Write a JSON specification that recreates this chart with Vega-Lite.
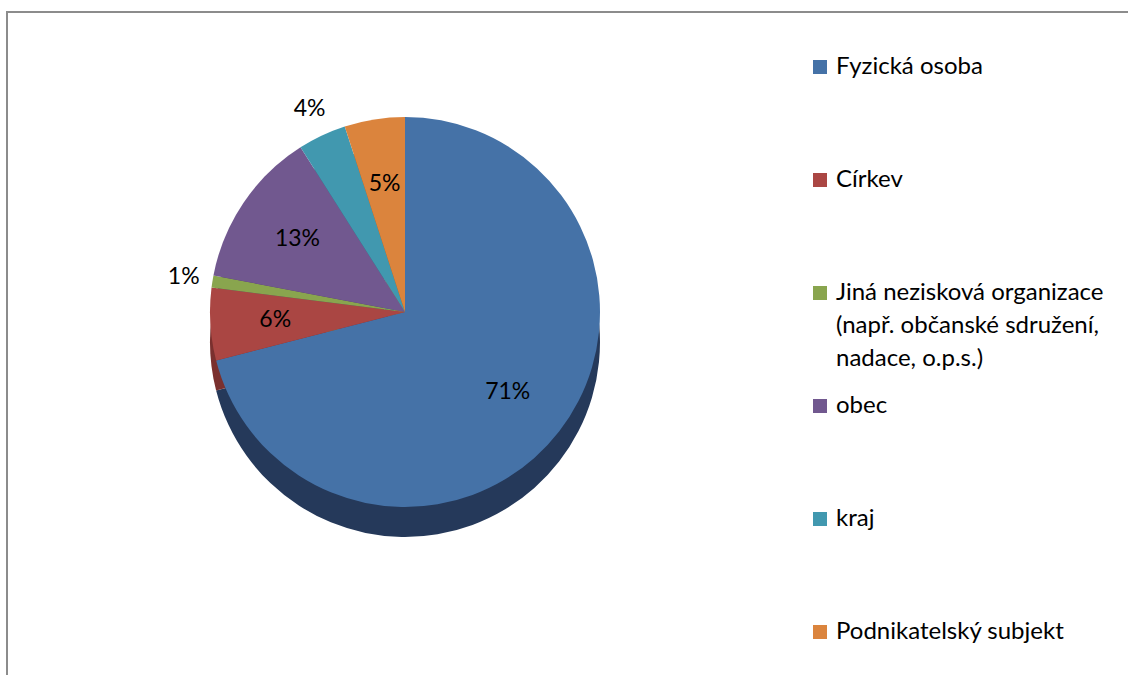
{
  "$schema": "https://vega.github.io/schema/vega-lite/v6.json",
  "autosize": "none",
  "width": 1125,
  "height": 670,
  "padding": {"left": 7, "top": 12, "right": 0, "bottom": 0},
  "background": "white",
  "config": {
    "view": {"stroke": "#8c8c8c", "strokeWidth": 2},
    "font": "Lato",
    "style": {"guide-label": {"lineHeight": 33}}
  },
  "data": {
    "values": [
      {"kategorie": "Fyzická osoba", "podil": 0.71, "poradi": 1},
      {"kategorie": "Církev", "podil": 0.06, "poradi": 2},
      {"kategorie": "Jiná nezisková organizace (např. občanské sdružení, nadace, o.p.s.)", "podil": 0.01, "poradi": 3},
      {"kategorie": "obec", "podil": 0.13, "poradi": 4},
      {"kategorie": "kraj", "podil": 0.04, "poradi": 5},
      {"kategorie": "Podnikatelský subjekt", "podil": 0.05, "poradi": 6}
    ]
  },
  "layer": [
    {
      "mark": {"type": "arc", "outerRadius": 195, "yOffset": 30},
      "encoding": {
        "x": {"value": 398},
        "y": {"value": 300},
        "theta": {"field": "podil", "type": "quantitative", "stack": true},
        "order": {"field": "poradi", "type": "quantitative"},
        "color": {
          "field": "kategorie",
          "type": "nominal",
          "legend": null,
          "scale": {
            "domain": ["Fyzická osoba", "Církev", "Jiná nezisková organizace (např. občanské sdružení, nadace, o.p.s.)", "obec", "kraj", "Podnikatelský subjekt"],
            "range": ["#25395a", "#7a302e", "#5f7535", "#4e3d63", "#2c6a7a", "#985b2a"]
          }
        }
      }
    },
    {
      "mark": {"type": "arc", "outerRadius": 195},
      "encoding": {
        "x": {"value": 398},
        "y": {"value": 300},
        "theta": {"field": "podil", "type": "quantitative", "stack": true},
        "order": {"field": "poradi", "type": "quantitative"},
        "color": {
          "field": "kategorie",
          "type": "nominal",
          "sort": null,
          "scale": {
            "domain": ["Fyzická osoba", "Církev", "Jiná nezisková organizace (např. občanské sdružení, nadace, o.p.s.)", "obec", "kraj", "Podnikatelský subjekt"],
            "range": ["#4572a7", "#aa4643", "#89a54e", "#71588f", "#4198af", "#db843d"]
          },
          "legend": {
            "title": null,
            "orient": "none",
            "legendX": 801,
            "legendY": 43,
            "symbolType": "square",
            "symbolSize": 196,
            "symbolStrokeWidth": 0,
            "labelFont": "Lato",
            "labelFontSize": 24,
            "labelColor": "#000000",
            "labelLimit": 400,
            "labelOffset": 4,
            "rowPadding": 23,
            "labelExpr": "datum.label == 'Jiná nezisková organizace (např. občanské sdružení, nadace, o.p.s.)' ? [' Jiná nezisková organizace', '(např. občanské sdružení,', 'nadace, o.p.s.)'] : [datum.label, ' ', ' ']"
          }
        }
      }
    },
    {
      "mark": {"type": "text", "radius": 130, "fontSize": 23, "font": "Lato", "color": "#000000"},
      "encoding": {
        "x": {"value": 398},
        "y": {"value": 300},
        "theta": {"field": "podil", "type": "quantitative", "stack": true},
        "order": {"field": "poradi", "type": "quantitative"},
        "text": {
          "condition": {"test": "datum.kategorie != 'kraj' && datum.poradi != 3", "field": "podil", "format": ".0%"},
          "value": ""
        }
      }
    },
    {
      "mark": {"type": "text", "radius": 224, "fontSize": 23, "font": "Lato", "color": "#000000"},
      "encoding": {
        "x": {"value": 398},
        "y": {"value": 300},
        "theta": {"field": "podil", "type": "quantitative", "stack": true},
        "order": {"field": "poradi", "type": "quantitative"},
        "text": {
          "condition": {"test": "datum.kategorie == 'kraj' || datum.poradi == 3", "field": "podil", "format": ".0%"},
          "value": ""
        }
      }
    }
  ],
  "resolve": {"scale": {"color": "independent"}}
}
